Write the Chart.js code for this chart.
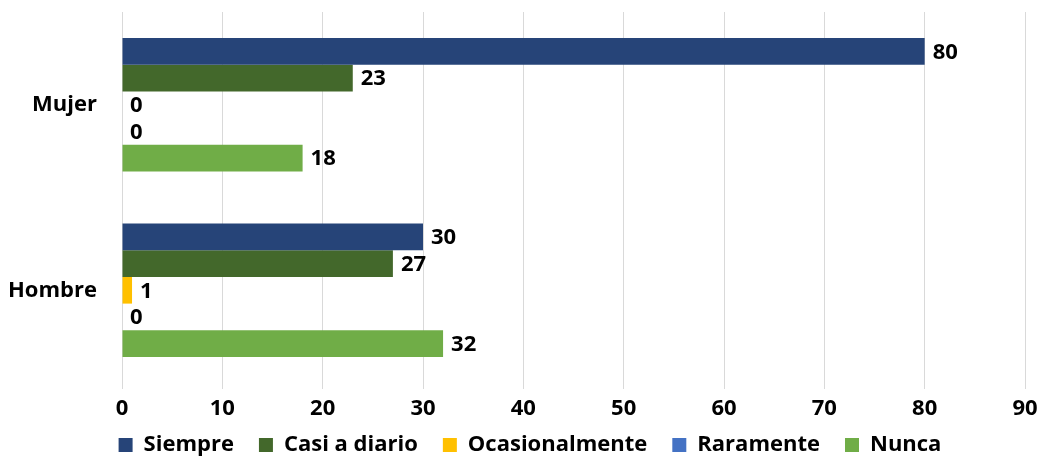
<!DOCTYPE HTML>
<html>
<head>
  <title>Frecuencia por sexo</title>
  <script src="https://cdn.jsdelivr.net/npm/chart.js"></script>
  <style>
    body { margin: 0; background: #fff; }
    #wrap { width: 1037px; height: 457px; }
  </style>
</head>
<body>
  <div id="wrap"><canvas id="myChart"></canvas></div>

  <script type="text/javascript">
    var categorias = ["Mujer", "Hombre"];
    var siempre     = [80, 30];
    var casiDiario  = [23, 27];
    var ocasional   = [0, 1];
    var raramente   = [0, 0];
    var nunca       = [18, 32];
    var xTicks = [0, 10, 20, 30, 40, 50, 60, 70, 80, 90];

    var colores = {
      siempre: '#264478',
      casi: '#43682b',
      ocasional: '#ffc000',
      raramente: '#4472c4',
      nunca: '#70ad47'
    };

    var fontFam = "'Open Sans', 'DejaVu Sans', sans-serif";

    // draws the value right after the end of each bar
    var valueLabels = {
      id: 'valueLabels',
      afterDatasetsDraw: function (chart) {
        var c = chart.ctx;
        c.save();
        c.font = 'bold 22px ' + fontFam;
        c.fillStyle = '#000';
        c.textAlign = 'left';
        c.textBaseline = 'middle';
        chart.data.datasets.forEach(function (ds, i) {
          var meta = chart.getDatasetMeta(i);
          meta.data.forEach(function (bar, j) {
            c.fillText(ds.data[j], bar.x + 8, bar.y + 1);
          });
        });
        c.restore();
      }
    };

    // pull the legend a bit up / right so it sits close under the ticks
    var legendShift = {
      id: 'legendShift',
      afterLayout: function (chart) {
        var lg = chart.legend;
        lg.top -= 17;
        lg.left += 8; lg.right += 8;
      }
    };

    const ctx = document.getElementById('myChart');
    var myChart = new Chart(ctx, {
      type: 'bar',
      data: {
        labels: categorias,
        datasets: [
          { label: 'Siempre', data: siempre, backgroundColor: colores.siempre },
          { label: 'Casi a diario', data: casiDiario, backgroundColor: colores.casi },
          { label: 'Ocasionalmente', data: ocasional, backgroundColor: colores.ocasional },
          { label: 'Raramente', data: raramente, backgroundColor: colores.raramente },
          { label: 'Nunca', data: nunca, backgroundColor: colores.nunca }
        ]
      },
      options: {
        indexAxis: 'y',
        responsive: true,
        maintainAspectRatio: false,
        animation: false,
        layout: { padding: { left: 10, right: 3, top: 12, bottom: 0 } },
        datasets: {
          bar: { categoryPercentage: 0.72, barPercentage: 1.0 }
        },
        scales: {
          x: {
            min: 0,
            max: 90,
            afterBuildTicks: function (axis) {
              axis.ticks = xTicks.map(function (v) { return { value: v }; });
            },
            afterFit: function (axis) {
              axis.height = 43;
              axis.paddingRight = 12;
            },
            grid: { color: '#d9d9d9', tickLength: 6, drawTicks: true },
            border: { display: false },
            ticks: {
              color: '#000',
              padding: 7,
              font: { family: fontFam, size: 22, weight: 'bold' }
            }
          },
          y: {
            afterFit: function (axis) {
              axis.width = 112;
              axis.paddingTop = 0;
              axis.paddingBottom = 0;
            },
            grid: { display: false, drawTicks: false },
            border: { display: false },
            ticks: {
              color: '#000',
              padding: 25,
              font: { family: fontFam, size: 22, weight: 'bold' }
            }
          }
        },
        plugins: {
          legend: {
            position: 'bottom',
            maxHeight: 31,
            labels: {
              color: '#000',
              boxWidth: 14,
              boxHeight: 14,
              padding: 25,
              font: { family: fontFam, size: 22, weight: 'bold' }
            }
          },
          tooltip: { enabled: false }
        }
      },
      plugins: [valueLabels, legendShift]
    });
  </script>
</body>
</html>
